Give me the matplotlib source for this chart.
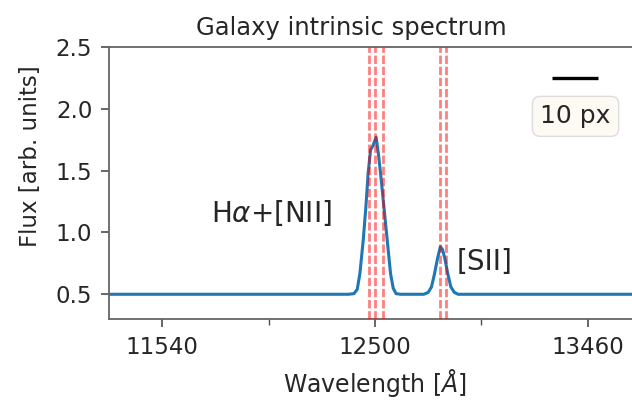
import matplotlib
matplotlib.use("Agg")
import matplotlib.pyplot as plt

# observed-frame spectrum, read point by point (wavelength in Angstrom, flux in arb. units)
wave = [11300, 12380, 12405, 12420, 12432, 12447, 12459, 12469, 12480, 12490,
        12505, 12515, 12525, 12540, 12555, 12570, 12582, 12595, 12615,
        12720, 12740, 12755, 12769, 12782, 12795, 12805, 12815, 12828,
        12842, 12858, 12875, 13700]
flux = [0.50, 0.50, 0.505, 0.54, 0.67, 0.94, 1.21, 1.48, 1.667, 1.70,
        1.77, 1.64, 1.48, 1.21, 0.94, 0.67, 0.55, 0.505, 0.50,
        0.50, 0.515, 0.56, 0.67, 0.79, 0.885, 0.86, 0.79, 0.67,
        0.56, 0.515, 0.50, 0.50]

# emission line positions: [NII]6548, Ha, [NII]6583, [SII]6716, [SII]6731
line_waves = [12471, 12500, 12538, 12791, 12820]

xticks_major = [11540, 12500, 13460]
xticks_minor = [12020, 12980]
yticks = [0.5, 1.0, 1.5, 2.0, 2.5]

txt = '#262626'
plt.rcParams['font.family'] = ['DejaVu Sans']
plt.rcParams['mathtext.fontset'] = 'dejavusans'

fig = plt.figure(figsize=(6.32, 4.0), dpi=100)
ax = fig.add_axes([109 / 632, 81 / 400, 532 / 632, 272 / 400])

ax.plot(wave, flux, color='#1f77b4', lw=2.2, zorder=2)
for lw_ in line_waves:
    ax.axvline(lw_, color='red', alpha=0.5, lw=2.0, ls=(0, (3, 1)), zorder=3)

ax.set_xlim(11300, 13700)
ax.set_ylim(0.3, 2.5)
ax.set_xticks(xticks_major)
ax.set_xticks(xticks_minor, minor=True)
ax.set_yticks(yticks)
ax.set_yticklabels([f'{v:.1f}' for v in yticks])

for s in ax.spines.values():
    s.set_color('0.4')
    s.set_linewidth(1.3)
ax.tick_params(which='major', length=6, width=1.2, color='0.3', labelsize=16.5,
               labelcolor=txt, pad=6)
ax.tick_params(which='minor', length=4, width=1.0, color='0.3')

ax.set_title('Galaxy intrinsic spectrum', fontsize=17.5, color=txt, pad=9,
             x=0.455)
ax.set_xlabel(r'Wavelength [$\AA$]', fontsize=17, color=txt, labelpad=6)
ax.set_ylabel('Flux [arb. units]', fontsize=16.5, color=txt)
ax.yaxis.set_label_coords(-0.125, 0.6)

ax.text(12034, 1.158, r'H$\alpha$+[NII]', fontsize=20, color=txt,
        ha='center', va='center')
ax.text(12870, 0.76, '[SII]', fontsize=20, color=txt, ha='left', va='center')

# scale bar with its label in a rounded box
ax.plot([0.833, 0.92], [0.885, 0.885], transform=ax.transAxes, color='k',
        lw=2.4, solid_capstyle='butt')
ax.text(0.877, 0.745, '10 px', transform=ax.transAxes, fontsize=18, color=txt,
        ha='center', va='center',
        bbox=dict(boxstyle='round,pad=0.32', fc='#fcfaf2', ec='#dddddd', lw=1))

fig.savefig('out.png', dpi=100)
